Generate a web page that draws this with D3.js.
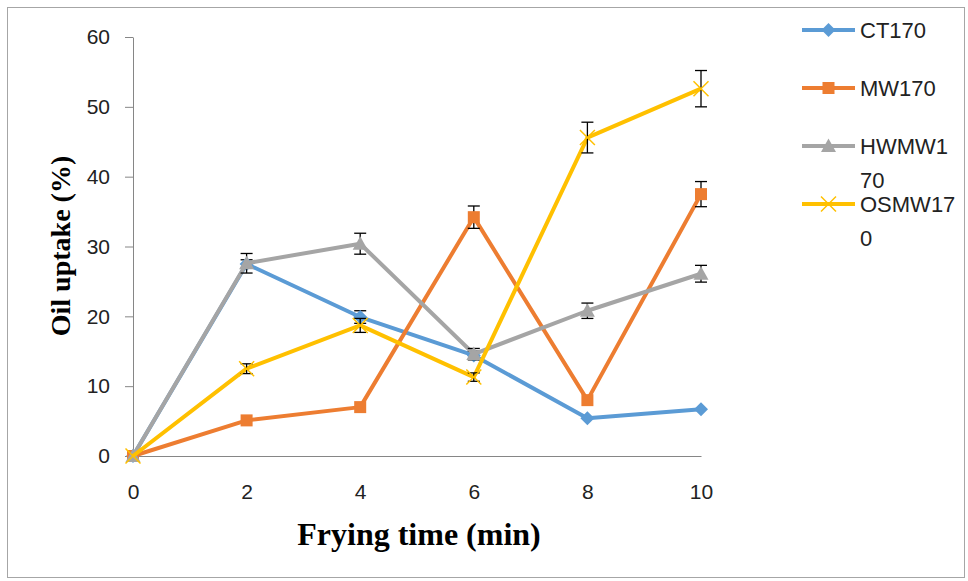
<!DOCTYPE html>
<html>
<head>
<meta charset="utf-8">
<script src="https://cdn.jsdelivr.net/npm/d3@7"></script>
<style>
  html, body { margin: 0; padding: 0; background: #fff; }
  svg { display: block; }
</style>
</head>
<body>
<svg id="chart" width="968" height="581"></svg>
<script>
// Frying time (min)
const times = [0, 2, 4, 6, 8, 10];
const yTicks = [0, 10, 20, 30, 40, 50, 60];

// Oil uptake (%) per treatment, with standard deviations
const ct170 = [0, 27.5, 19.9, 14.4, 5.4, 6.7];
const ct170Err = [0, 0.6, 0.9, 0.6, 0, 0];
const mw170 = [0, 5.1, 7.0, 34.2, 8.0, 37.5];
const mw170Err = [0, 0, 0, 1.6, 0, 1.8];
const hwmw170 = [0, 27.6, 30.4, 14.6, 20.8, 26.1];
const hwmw170Err = [0, 1.4, 1.5, 0.8, 1.1, 1.2];
const osmw170 = [0, 12.5, 18.7, 11.3, 45.6, 52.6];
const osmw170Err = [0, 0.7, 1.0, 0.6, 2.2, 2.6];

const seriesNames = ["CT170", "MW170", "HWMW170", "OSMW170"];
const legendLines = [["CT170"], ["MW170"], ["HWMW1", "70"], ["OSMW17", "0"]];
const colors = ["#5B9BD5", "#ED7D31", "#A5A5A5", "#FFC000"];
const markers = ["diamond", "square", "triangle", "cross"];

const series = [
  { values: ct170, errs: ct170Err },
  { values: mw170, errs: mw170Err },
  { values: hwmw170, errs: hwmw170Err },
  { values: osmw170, errs: osmw170Err }
].map((s, i) => ({ ...s, name: seriesNames[i], color: colors[i], marker: markers[i] }));

const svg = d3.select("#chart");

// outer frame
svg.append("rect")
  .attr("x", 7.5).attr("y", 7.5)
  .attr("width", 957).attr("height", 570)
  .attr("fill", "#fff").attr("stroke", "#a6a6a6").attr("stroke-width", 1);

const x = d3.scaleLinear().domain([0, 10]).range([133, 701]);
const y = d3.scaleLinear().domain([0, 60]).range([456, 37]);

const tickFont = "'Liberation Sans', 'DejaVu Sans', sans-serif";

// y axis
const yAxis = svg.append("g")
  .attr("transform", `translate(${x(0)},0)`)
  .call(d3.axisLeft(y).tickValues(yTicks).tickSize(8).tickSizeOuter(0).tickPadding(15));
yAxis.select(".domain").attr("stroke", "#868686");
yAxis.selectAll(".tick line").attr("stroke", "#868686");
yAxis.selectAll("text")
  .attr("font-family", tickFont).attr("font-size", 21).attr("fill", "#222");

// x axis line (no tick marks)
const xAxis = svg.append("g")
  .attr("transform", `translate(0,${y(0)})`)
  .call(d3.axisBottom(x).tickValues(times).tickSize(0).tickSizeOuter(0).tickPadding(28));
xAxis.select(".domain").attr("stroke", "#868686");
xAxis.selectAll("text")
  .attr("font-family", tickFont).attr("font-size", 21).attr("fill", "#222");

// axis titles
svg.append("text")
  .attr("x", 419).attr("y", 545)
  .attr("text-anchor", "middle")
  .attr("font-family", "'Liberation Serif', 'Times New Roman', serif")
  .attr("font-weight", "bold").attr("font-size", 32)
  .text("Frying time (min)");

svg.append("text")
  .attr("transform", "translate(70,246) rotate(-90)")
  .attr("text-anchor", "middle")
  .attr("font-family", "'Liberation Serif', 'Times New Roman', serif")
  .attr("font-weight", "bold").attr("font-size", 28)
  .text("Oil uptake (%)");

// marker shapes
function drawMarker(g, type, color, cx, cy, scale = 1) {
  if (type === "diamond") {
    g.append("path")
      .attr("d", `M${cx},${cy - 7 * scale}L${cx + 7 * scale},${cy}L${cx},${cy + 7 * scale}L${cx - 7 * scale},${cy}Z`)
      .attr("fill", color);
  } else if (type === "square") {
    const s = 12 * scale;
    g.append("rect").attr("x", cx - s / 2).attr("y", cy - s / 2)
      .attr("width", s).attr("height", s).attr("fill", color);
  } else if (type === "triangle") {
    g.append("path")
      .attr("d", `M${cx},${cy - 7.5 * scale}L${cx + 7.5 * scale},${cy + 6 * scale}L${cx - 7.5 * scale},${cy + 6 * scale}Z`)
      .attr("fill", color);
  } else if (type === "cross") {
    const r = 7.5 * scale;
    g.append("path")
      .attr("d", `M${cx - r},${cy - r}L${cx + r},${cy + r}M${cx - r},${cy + r}L${cx + r},${cy - r}`)
      .attr("stroke", color).attr("stroke-width", 1.5).attr("fill", "none");
  }
}

const line = d3.line().x((d, i) => x(times[i])).y(d => y(d));

series.forEach(s => {
  const g = svg.append("g");
  g.append("path")
    .datum(s.values)
    .attr("d", line)
    .attr("fill", "none")
    .attr("stroke", s.color)
    .attr("stroke-width", 4)
    .attr("stroke-linejoin", "round");

  // error bars
  s.values.forEach((v, i) => {
    const e = s.errs[i];
    if (!e) return;
    const cx = x(times[i]);
    const eb = g.append("g").attr("stroke", "#000").attr("stroke-width", 1.3);
    eb.append("line").attr("x1", cx).attr("x2", cx).attr("y1", y(v + e)).attr("y2", y(v - e));
    eb.append("line").attr("x1", cx - 6).attr("x2", cx + 6).attr("y1", y(v + e)).attr("y2", y(v + e));
    eb.append("line").attr("x1", cx - 6).attr("x2", cx + 6).attr("y1", y(v - e)).attr("y2", y(v - e));
  });

  s.values.forEach((v, i) => drawMarker(g, s.marker, s.color, x(times[i]), y(v)));
});

// legend (long names wrap onto a second line)
const legendY = [30, 88, 146, 204];
const legend = svg.append("g");
series.forEach((s, i) => {
  const ly = legendY[i];
  legend.append("line")
    .attr("x1", 802).attr("x2", 855).attr("y1", ly).attr("y2", ly)
    .attr("stroke", s.color).attr("stroke-width", 4);
  drawMarker(legend, s.marker, s.color, 828.5, ly);
  legendLines[i].forEach((t, j) => {
    legend.append("text")
      .attr("x", 860).attr("y", ly + 8 + j * 34)
      .attr("font-family", "'Liberation Sans', sans-serif")
      .attr("font-size", 22).attr("fill", "#222")
      .text(t);
  });
});
</script>
</body>
</html>
